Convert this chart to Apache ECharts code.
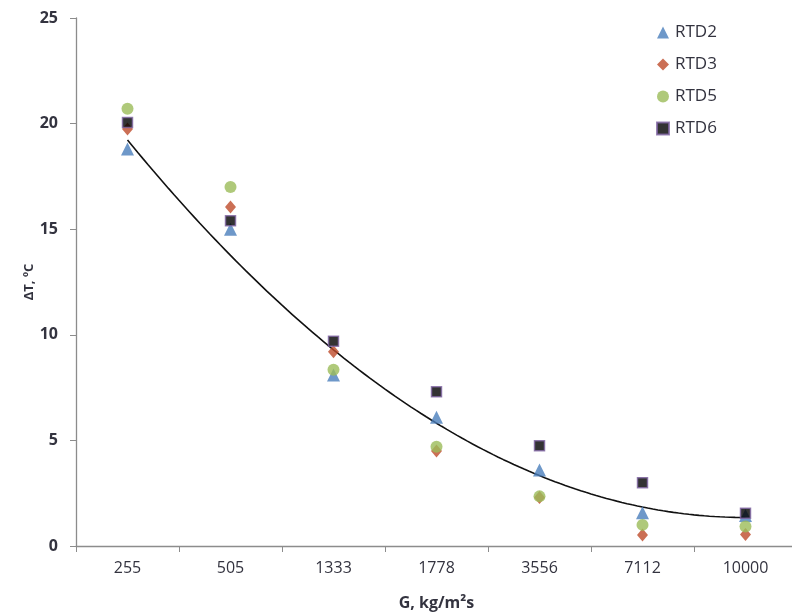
<!DOCTYPE html>
<html><head><meta charset="utf-8">
<script src="https://cdn.jsdelivr.net/npm/echarts@6/dist/echarts.min.js"></script>
<style>html,body{margin:0;padding:0;background:#fff}#c{width:792px;height:616px}</style>
</head><body><div id="c"></div>
<script>
const categories = ['255','505','1333','1778','3556','7112','10000'];
const rtd2 = [18.8, 15.0, 8.1, 6.1, 3.6, 1.57, 1.45];
const rtd3 = [19.75, 16.05, 9.2, 4.5, 2.3, 0.52, 0.55];
const rtd5 = [20.7, 17.0, 8.35, 4.7, 2.35, 1.0, 0.92];
const rtd6 = [20.05, 15.4, 9.7, 7.3, 4.75, 3.0, 1.55];
const yTicks = [0, 5, 10, 15, 20, 25];

// Quadratic least-squares trendline (Excel-style) fitted to RTD2 over category index 1..n
function quadFit(ys){
  const S=[0,0,0,0,0], T=[0,0,0];
  ys.forEach((y,i)=>{const x=i+1; for(let k=0;k<5;k++) S[k]+=Math.pow(x,k); for(let k=0;k<3;k++) T[k]+=y*Math.pow(x,k);});
  const M=[[S[0],S[1],S[2],T[0]],[S[1],S[2],S[3],T[1]],[S[2],S[3],S[4],T[2]]];
  for(let i=0;i<3;i++){for(let j=i+1;j<3;j++){const f=M[j][i]/M[i][i];for(let k=i;k<4;k++)M[j][k]-=f*M[i][k];}}
  const c=[0,0,0];
  for(let i=2;i>=0;i--){let s=M[i][3];for(let k=i+1;k<3;k++)s-=M[i][k]*c[k];c[i]=s/M[i][i];}
  return c;
}
const coef = quadFit(rtd2);
const trend = [];
for(let i=0;i<=120;i++){const x=1+6*i/120; trend.push([x, coef[0]+coef[1]*x+coef[2]*x*x]);}

const txt = '#33333f';
const font = 'Open Sans';
const chart = echarts.init(document.getElementById('c'), null, {renderer:'canvas'});
chart.setOption({
  animation:false,
  backgroundColor:'#fff',
  grid:{left:76, top:18, width:721, height:528, outerBoundsMode:'none', containLabel:false},
  legend:{
    orient:'vertical', left:651, top:19, itemGap:15, itemWidth:12, itemHeight:12,
    textStyle:{fontFamily:font, fontSize:17, color:txt, padding:[0,0,0,1]},
    data:['RTD2','RTD3','RTD5','RTD6']
  },
  xAxis:[{
    type:'category', data:categories, boundaryGap:true,
    axisLine:{lineStyle:{color:'#8c8c8c', width:1.3}},
    axisTick:{show:true, length:6, lineStyle:{color:'#8c8c8c'}},
    axisLabel:{fontFamily:font, fontSize:16, color:txt, margin:14},
    name:'G, kg/m²s', nameLocation:'middle', nameGap:49,
    nameTextStyle:{fontFamily:font, fontSize:16, fontWeight:'bold', color:txt},
    splitLine:{show:false}
  },{
    type:'value', min:0.5, max:7.5, show:false
  }],
  yAxis:{
    type:'value', min:0, max:25, interval:5,
    axisLine:{show:true, lineStyle:{color:'#8c8c8c', width:1.3}},
    axisTick:{show:true, length:6, lineStyle:{color:'#8c8c8c'}},
    axisLabel:{fontFamily:font, fontSize:16, fontWeight:'bold', color:txt, margin:18,
      formatter:v=>yTicks.includes(v)?String(v):''},
    splitLine:{show:false},
    name:'ΔT, ºC', nameLocation:'middle', nameGap:40, nameRotate:90, nameMoveOverlap:false,
    nameTextStyle:{fontFamily:font, fontSize:13, fontWeight:'bold', color:txt}
  },
  series:[
    {name:'trend', type:'line', xAxisIndex:1, data:trend, showSymbol:false, symbol:'none',
     lineStyle:{color:'#111', width:1.6}, z:1, silent:true},
    {name:'RTD2', type:'scatter', data:rtd2, symbol:'triangle', symbolSize:13,
     itemStyle:{color:'#4a7ebb'}, z:3},
    {name:'RTD3', type:'scatter', data:rtd3, symbol:'diamond', symbolSize:[11,13],
     itemStyle:{color:'#be4b2a'}, z:3},
    {name:'RTD5', type:'scatter', data:rtd5, symbol:'circle', symbolSize:12,
     itemStyle:{color:'#9bbb59'}, z:3},
    {name:'RTD6', type:'scatter', data:rtd6, symbol:'rect', symbolSize:10,
     itemStyle:{color:'#000', borderColor:'#8064a2', borderWidth:1.5}, z:4}
  ]
});
</script></body></html>
